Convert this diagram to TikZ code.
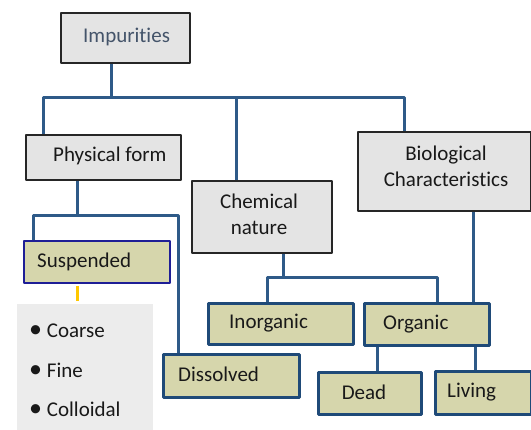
\documentclass[tikz,border=0pt]{standalone}
\usepackage{fontspec}
\setmainfont{Carlito}[Ligatures=NoCommon]
\usetikzlibrary{calc}
\definecolor{linkblue}{HTML}{2E5A88}
\definecolor{edgeblue}{HTML}{1F4A78}
\definecolor{boxgray}{HTML}{E4E4E4}
\definecolor{olivefill}{HTML}{D6D6AC}
\definecolor{listgray}{HTML}{ECECEC}
\definecolor{slate}{HTML}{44546A}
\definecolor{suspedge}{HTML}{1E1E96}
\definecolor{stemyellow}{HTML}{FFC800}
\begin{document}
\begin{tikzpicture}[x=1pt, y=-1pt, line join=round,
  box/.style={anchor=north west, inner sep=0pt, minimum width=#1},
  graybox/.style={box=#1, draw=black!85, fill=boxgray, line width=2.4pt},
  olivebox/.style={box=#1, draw=edgeblue, fill=olivefill, line width=3pt},
  lbl/.style={inner sep=0pt, anchor=west, text height=14pt, text depth=4pt, yshift=-1.5pt,
    font=\fontsize{21}{26}\selectfont, text=black!90},
  conn/.style={draw=linkblue, line width=3pt}]
\useasboundingbox (0,0) rectangle (531,430);
% boxes
\node[graybox=129, minimum height=50] (imp) at (60,12) {};
\node[graybox=155, minimum height=45] (phys) at (25,134) {};
\node[graybox=140, minimum height=72] (chem) at (191,180) {};
\node[graybox=173, minimum height=79] (bio) at (357,131) {};
\node[box=146, minimum height=42, draw=suspedge, fill=olivefill, line width=2pt] (susp) at (23,240) {};
\node[box=136, minimum height=126, fill=listgray] (list) at (17,304) {};
\node[olivebox=136, minimum height=43] (diss) at (162,353) {};
\node[olivebox=145, minimum height=41] (inorg) at (207,302) {};
\node[olivebox=125, minimum height=42] (org) at (363,302) {};
\node[olivebox=103, minimum height=42] (dead) at (317,371) {};
\node[olivebox=96, minimum height=43] (liv) at (434,370) {};
% texts
\node[lbl, text=slate] (imp-t) at (83,36) {Impurities};
\node[lbl] (phys-t) at (53,155) {Physical form};
\node[lbl, anchor=center, align=center, text height=, text depth=] (chem-t) at (259,213) {Chemical\\nature};
\node[lbl, anchor=center, align=center, text height=, text depth=] (bio-t) at (446,165) {Biological\\Characteristics};
\node[lbl] (susp-t) at (37,261) {Suspended};
\node[lbl] (diss-t) at (178,375) {Dissolved};
\node[lbl] (inorg-t) at (229,322) {Inorganic};
\node[lbl] (org-t) at (383,323) {Organic};
\node[lbl, anchor=center] (dead-t) at (364,393) {Dead};
\node[lbl] (liv-t) at (447,391) {Living};
\node[lbl] (l1) at (29,331) {{\fontsize{26}{26}\selectfont•} Coarse};
\node[lbl] (l2) at (29,371) {{\fontsize{26}{26}\selectfont•} Fine};
\node[lbl] (l3) at (29,410) {{\fontsize{26}{26}\selectfont•} Colloidal};
% connectors
\coordinate (bus) at (0,98);
\coordinate (i1) at ($(imp.south west)+(51,0)$);
\coordinate (p1) at ($(phys.north west)+(18,0)$);
\coordinate (c1) at ($(chem.north west)+(45,0)$);
\coordinate (b1) at ($(bio.north west)+(47,0)$);
\draw[conn] (p1) |- (b1 |- bus) -- (b1);
\draw[conn] (i1) -- (i1 |- bus);
\draw[conn] (c1) -- (c1 |- bus);
\coordinate (p2) at ($(phys.south west)+(52,0)$);
\coordinate (s1) at ($(susp.north west)+(10,0)$);
\coordinate (d1) at ($(diss.north west)+(16,0)$);
\draw[conn] (p2) -- ($(p2)+(0,34)$) coordinate (bus2);
\draw[conn] (s1) |- (bus2 -| d1) -- (d1);
\coordinate (c2) at ($(chem.south west)+(92,0)$);
\coordinate (n1) at ($(inorg.north west)+(60,0)$);
\coordinate (o1) at ($(org.north west)+(74,0)$);
\draw[conn] (c2) -- ($(c2)+(0,23)$) coordinate (bus3);
\draw[conn] (n1) |- (bus3 -| o1) -- (o1);
\coordinate (b2) at ($(bio.south west)+(116,0)$);
\draw[conn] (b2) -- (b2 |- org.north);
\coordinate (o2) at ($(org.south west)+(14,0)$);
\coordinate (o3) at ($(org.south west)+(112,0)$);
\draw[conn] (o2) -- (o2 |- dead.north);
\draw[conn] (o3) -- (o3 |- liv.north);
\coordinate (s2) at ($(susp.south west)+(54,2)$);
\coordinate (s3) at ($(list.north west)+(60,-3)$);
\draw[draw=stemyellow, line width=3pt] (s2) -- (s3);
\end{tikzpicture}
\end{document}
